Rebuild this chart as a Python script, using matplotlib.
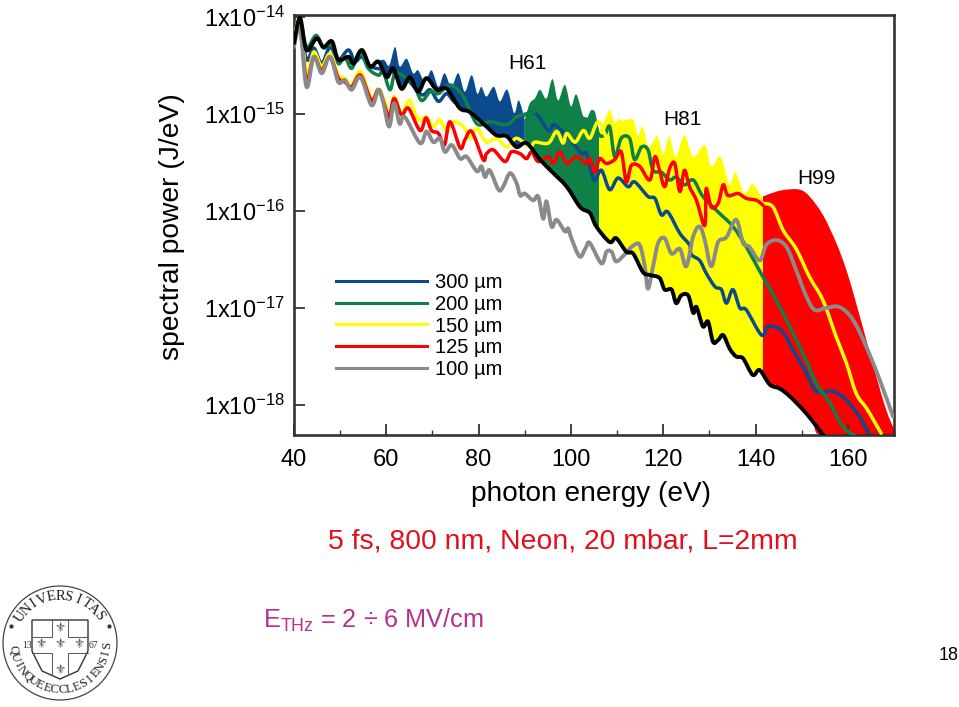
#! /usr/bin/env python3

import numpy as np
import matplotlib
matplotlib.use('Agg')
import matplotlib.pyplot as plt
from matplotlib.lines import Line2D
from matplotlib.path import Path
from matplotlib.patches import Circle, Polygon, PathPatch
from matplotlib.ticker import FixedLocator, NullLocator, FixedFormatter

plt.rcParams['font.family'] = ['Liberation Sans', 'DejaVu Sans']
plt.rcParams['mathtext.fontset'] = 'custom'
plt.rcParams['mathtext.rm'] = 'Liberation Sans'
plt.rcParams['mathtext.default'] = 'rm'

# all curves: photon energy (eV), log10 of spectral power (J/eV)
black_x = [40.0,41.3,42.7,44.9,46.4,48.2,49.6,51.8,52.9,54.7,56.5,58.3,60.1,61.5,63.3,65.1,66.9,68.7,70.9,73.1,75.9,78.1,81.7,83.9,86.1,88.2,90.4,93.3,96.2,99.1,102.0,104.1,105.5,108.4,109.8,112.0,113.5,115.6,117.1,119.2,120.3,121.8,122.8,123.9,125.4,126.5,127.2,128.6,129.7,130.8,131.9,133.0,134.4,135.8,137.3,139.4,140.9,143.1,145.2,147.4,150.3,152.4,155.0]
black_y = [-14.27,-14.01,-14.34,-14.22,-14.31,-14.25,-14.44,-14.41,-14.48,-14.34,-14.51,-14.46,-14.62,-14.53,-14.74,-14.62,-14.77,-14.63,-14.75,-14.74,-14.94,-14.98,-15.13,-15.22,-15.23,-15.34,-15.30,-15.47,-15.61,-15.75,-15.96,-16.02,-16.16,-16.32,-16.28,-16.42,-16.44,-16.63,-16.66,-16.69,-16.81,-16.81,-16.95,-16.87,-16.87,-17.05,-16.99,-17.19,-17.14,-17.35,-17.33,-17.28,-17.42,-17.50,-17.52,-17.69,-17.64,-17.79,-17.83,-17.91,-18.05,-18.17,-18.33]

gray_x = [40.0,41.3,42.7,44.3,46.0,47.8,49.6,51.0,52.5,54.4,56.8,58.3,59.3,60.6,61.7,62.9,64.0,67.3,68.7,70.2,71.6,72.7,74.2,76.0,77.4,79.6,80.6,81.4,82.4,84.3,85.3,86.8,88.2,89.0,90.0,91.8,92.9,94.0,94.7,95.8,96.9,98.7,99.4,100.1,101.9,103.2,104.1,106.6,107.7,108.8,109.8,111.6,113.4,114.9,116.0,116.7,117.8,118.9,120.3,121.8,123.6,125.0,126.5,127.9,129.0,130.4,131.9,133.7,135.8,137.3,138.7,140.9,142.3,144.5,146.7,148.8,151.0,152.8,155.3,158.2,161.1,164.0,166.9,169.8]
gray_y = [-14.31,-14.10,-14.72,-14.41,-14.58,-14.41,-14.67,-14.65,-14.75,-14.62,-14.91,-14.75,-14.87,-15.13,-14.89,-15.10,-15.03,-15.30,-15.18,-15.29,-15.25,-15.39,-15.32,-15.46,-15.44,-15.59,-15.54,-15.65,-15.58,-15.78,-15.75,-15.61,-15.71,-15.84,-15.82,-15.89,-15.85,-16.08,-15.90,-16.16,-16.09,-16.21,-16.18,-16.28,-16.47,-16.38,-16.33,-16.54,-16.42,-16.42,-16.52,-16.45,-16.36,-16.35,-16.57,-16.80,-16.57,-16.33,-16.28,-16.44,-16.39,-16.57,-16.26,-16.16,-16.30,-16.57,-16.32,-16.27,-16.09,-16.33,-16.37,-16.51,-16.35,-16.30,-16.37,-16.61,-16.88,-17.02,-17.00,-16.99,-17.12,-17.40,-17.74,-18.12]

red_x = [40.0,41.3,42.7,44.3,46.0,47.8,49.6,51.0,52.5,54.4,56.8,58.3,59.7,60.6,61.7,63.3,64.8,67.3,68.6,69.8,71.3,72.6,73.8,76.0,77.0,78.5,81.0,81.7,83.2,85.7,87.1,89.0,90.4,91.5,92.9,95.1,96.2,97.6,99.1,101.2,103.4,104.1,105.2,106.2,107.7,109.5,110.9,112.0,113.1,114.9,117.1,118.2,119.2,120.3,121.4,122.5,123.6,124.6,125.7,127.2,129.0,129.3,130.4,131.9,133.0,134.0,136.2,138.0,140.2,141.6]
red_y = [-14.25,-14.12,-14.65,-14.41,-14.55,-14.41,-14.63,-14.67,-14.72,-14.60,-14.86,-14.75,-14.92,-15.04,-14.84,-15.01,-14.94,-15.17,-15.04,-15.17,-15.20,-15.32,-15.08,-15.35,-15.27,-15.18,-15.47,-15.41,-15.37,-15.49,-15.39,-15.41,-15.46,-15.39,-15.49,-15.44,-15.51,-15.39,-15.51,-15.44,-15.51,-15.46,-15.60,-15.46,-15.51,-15.47,-15.39,-15.70,-15.53,-15.54,-15.68,-15.44,-15.58,-15.75,-15.56,-15.51,-15.80,-15.58,-15.75,-15.89,-16.15,-15.77,-15.96,-15.92,-15.73,-15.84,-15.82,-15.87,-15.89,-15.94]

yellow_x = [40.0,41.3,42.7,44.3,46.0,47.8,49.6,51.0,52.5,54.4,56.8,58.3,59.7,60.6,61.7,63.3,65.0,66.9,68.7,70.2,71.6,73.1,74.5,76.7,78.1,79.6,81.7,83.9,86.1,88.2,91.1,92.2,95.1,96.9,98.3,99.1,100.9,102.7,104.1,105.9,107.7]
yellow_y = [-14.22,-14.03,-14.58,-14.36,-14.51,-14.38,-14.60,-14.63,-14.70,-14.56,-14.84,-14.74,-14.87,-15.03,-14.82,-14.99,-14.86,-15.06,-15.03,-15.13,-15.06,-15.18,-15.08,-15.13,-15.25,-15.15,-15.29,-15.25,-15.34,-15.25,-15.34,-15.29,-15.30,-15.18,-15.30,-15.20,-15.29,-15.17,-15.25,-15.08,-15.25]
yellow2_x = [141.6,143.8,146.0,148.8,151.7,154.6,157.5,159.7,161.8,164.0,165.5,167.2]
yellow2_y = [-15.92,-15.96,-16.20,-16.39,-16.68,-16.92,-17.30,-17.57,-17.88,-18.03,-18.15,-18.29]

green_x = [40.0,41.3,42.7,44.8,46.4,48.2,49.6,51.0,52.5,54.3,56.1,58.3,59.3,60.8,61.9,64.0,65.8,67.6,69.5,71.3,73.8,76.7,79.6,82.4,86.1,88.2,91.1,95.0,100.0,104.1,104.8,105.9,107.3,108.4,109.5,110.9,112.7,113.8,115.3,116.7,117.8,119.6,121.4,122.8,124.6,126.5,128.6,131.9,135.1,138.0,141.6,144.5,147.4,150.3,153.2,156.1,158.9,161.8]
green_y = [-14.24,-14.03,-14.31,-14.19,-14.32,-14.27,-14.48,-14.41,-14.53,-14.36,-14.53,-14.60,-14.56,-14.75,-14.58,-14.62,-14.67,-14.86,-14.77,-14.79,-14.70,-14.82,-15.10,-15.08,-15.11,-15.03,-14.99,-14.95,-15.00,-15.06,-14.98,-15.20,-15.22,-15.13,-15.44,-15.25,-15.25,-15.47,-15.34,-15.37,-15.58,-15.60,-15.68,-15.65,-15.73,-15.68,-15.85,-16.01,-16.16,-16.37,-16.68,-16.92,-17.19,-17.47,-17.78,-17.98,-18.22,-18.33]

blue_x = [40.0,41.3,42.7,44.3,46.0,47.8,49.6,51.8,53.2,54.7,56.5,60.0,64.0,67.6,69.5,71.3,73.1,75.2,80.0,86.8,88.9,92.2,95.1,96.2,98.0,100.5,102.3,103.4,105.0,106.6,108.4,110.2,112.4,113.8,116.7,118.2,119.6,121.0,123.6,125.7,126.1,127.9,129.3,131.2,132.6,133.7,135.1,136.6,138.0,141.3,142.7,145.6,148.1,151.0,153.2,156.8,159.7,162.5,164.7]
blue_y = [-14.22,-14.05,-14.44,-14.32,-14.48,-14.31,-14.44,-14.34,-14.46,-14.41,-14.51,-14.55,-14.62,-14.80,-14.75,-14.87,-14.79,-14.89,-14.95,-15.06,-15.03,-14.99,-15.17,-15.11,-15.17,-15.30,-15.41,-15.41,-15.68,-15.58,-15.78,-15.66,-15.75,-15.70,-15.85,-15.87,-16.04,-16.01,-16.23,-16.35,-16.45,-16.51,-16.64,-16.78,-16.81,-16.95,-16.81,-17.00,-17.02,-17.28,-17.19,-17.23,-17.43,-17.67,-17.86,-17.86,-17.95,-18.12,-18.31]

# upper edges of the harmonic bands
blue_top_x = [56.5,59.3,60.6,61.9,62.9,64.4,65.8,66.9,68.4,69.8,71.3,72.6,74.1,75.6,77.0,78.5,79.7,80.6,81.7,83.3,84.6,86.2,87.7,88.7,90.0]
blue_top_y = [-14.51,-14.44,-14.50,-14.31,-14.51,-14.43,-14.58,-14.55,-14.67,-14.55,-14.72,-14.58,-14.72,-14.58,-14.77,-14.60,-14.79,-14.72,-14.82,-14.72,-14.87,-14.75,-14.99,-14.86,-15.06]
green_top_x = [90.0,91.1,92.2,93.3,94.7,96.0,97.2,98.7,100.0,101.2,103.0,104.6,106.1]
green_top_y = [-15.06,-14.89,-14.84,-14.75,-14.84,-14.64,-14.86,-14.70,-14.92,-14.80,-15.06,-14.96,-15.17]
yellow_top_x = [106.1,107.0,108.4,109.5,110.2,111.3,113.5,114.5,115.5,116.9,118.7,120.0,121.3,122.7,124.6,126.5,129.0,130.4,132.4,134.4,135.6,137.6,139.4,141.6]
yellow_top_y = [-15.17,-15.10,-14.96,-15.10,-15.05,-15.07,-15.06,-15.23,-15.13,-15.34,-15.23,-15.42,-15.23,-15.44,-15.22,-15.44,-15.32,-15.54,-15.44,-15.73,-15.60,-15.82,-15.72,-15.89]
red_top_x = [141.6,144.5,146.7,149.6,151.7,154.6,157.5,159.7,161.8,164.0,166.2,168.3,170.1]
red_top_y = [-15.85,-15.80,-15.78,-15.78,-15.85,-16.04,-16.33,-16.61,-16.95,-17.33,-17.71,-18.05,-18.26]

legend_labels = ['300 µm', '200 µm', '150 µm', '125 µm', '100 µm']
col_blue, col_green, col_yellow, col_red, col_gray = '#0c4a8e', '#0e8048', '#ffff00', '#ff0000', '#8a8a8a'
y_ticks = [-14, -15, -16, -17, -18]
y_labels = ['1x10$^{-14}$', '1x10$^{-15}$', '1x10$^{-16}$', '1x10$^{-17}$', '1x10$^{-18}$']
harmonics = ['H61', 'H81', 'H99']
harmonic_x = [86.5, 120.1, 149.1]
harmonic_y = [-14.48, -15.06, -15.66]

W, H = 959.0, 707.0
fig = plt.figure(figsize=(9.59, 7.07), dpi=100)
ax = fig.add_axes([294/W, (H-435)/H, 600/W, 420/H])


def segs(x, y):
    # bezier pieces through the read points, so the curves come out round as in the original
    p = np.column_stack([x, y])
    q = np.vstack([p[0], p, p[-1]])
    out = []
    for i in range(len(p)-1):
        out.append(p[i] + (q[i+2]-q[i])/6.0)
        out.append(p[i+1] - (q[i+3]-q[i+1])/6.0)
        out.append(p[i+1])
    return np.array(out)


def to_path(pieces):
    # pieces: first point, then the bezier pieces; exponents become values here
    verts = np.vstack(pieces)
    verts = np.column_stack([verts[:, 0], 10.0**verts[:, 1]])
    codes = [Path.MOVETO] + [Path.CURVE4]*(len(verts)-1)
    return Path(verts, codes)


def curve(x, y, color, lw, z):
    ax.add_patch(PathPatch(to_path([[x[0], y[0]], segs(x, y)]), fill=False, ec=color, lw=lw, zorder=z,
                           joinstyle='round', capstyle='round'))


def band(top_x, top_y, color):
    # fill from the upper edge down to the black curve
    top_x = np.array(top_x)
    low_x = np.array(black_x)
    keep = (low_x > top_x[0]) & (low_x < top_x[-1])
    edge_x = np.concatenate([[top_x[-1]], low_x[keep][::-1], [top_x[0]]])
    edge_y = np.concatenate([[np.interp(top_x[-1], black_x, black_y)], np.array(black_y)[keep][::-1],
                             [np.interp(top_x[0], black_x, black_y)]])
    path = to_path([[top_x[0], top_y[0]], segs(top_x, top_y)])
    low = to_path([[edge_x[0], edge_y[0]], segs(edge_x, edge_y)])
    verts = np.vstack([path.vertices, low.vertices])
    codes = list(path.codes) + [Path.LINETO] + list(low.codes[1:])
    ax.add_patch(PathPatch(Path(verts, codes), fc=color, lw=0, zorder=1))


band(blue_top_x, blue_top_y, col_blue)
band(green_top_x, green_top_y, col_green)
band(yellow_top_x, yellow_top_y, col_yellow)
band(red_top_x, red_top_y, col_red)

lw = 2.5
curve(blue_x, blue_y, col_blue, lw, 2)
curve(green_x, green_y, col_green, lw, 3)
curve(yellow_x, yellow_y, col_yellow, lw, 4)
curve(yellow2_x, yellow2_y, col_yellow, lw, 4)
curve(red_x, red_y, col_red, lw, 5)
curve(gray_x, gray_y, col_gray, lw+0.3, 6)
curve(black_x, black_y, 'black', lw+0.3, 7)

ax.set_yscale('log')
ax.set_xlim(40, 170)
ax.set_ylim(10.0**(-14-418/97.0), 10.0**(-14+2/97.0))
ax.xaxis.set_major_locator(FixedLocator([40, 60, 80, 100, 120, 140, 160]))
ax.xaxis.set_minor_locator(FixedLocator([50, 70, 90, 110, 130, 150, 170]))
ax.yaxis.set_major_locator(FixedLocator([10.0**v for v in y_ticks]))
ax.yaxis.set_major_formatter(FixedFormatter(y_labels))
ax.yaxis.set_minor_locator(NullLocator())
ax.tick_params(which='major', direction='in', length=8, width=1.3, color='#333333', labelsize=17)
ax.tick_params(which='minor', direction='in', length=3.6, width=1.0, color='#333333')
ax.tick_params(axis='x', which='major', pad=10)
ax.tick_params(axis='y', which='major', pad=6.5)
for s in ax.spines.values():
    s.set_linewidth(1.9)
    s.set_color('#333333')

fig.text(172/W, 1-227/H, 'spectral power (J/eV)', rotation=90, ha='center', va='center', fontsize=20.3)
fig.text(591/W, 1-494/H, 'photon energy (eV)', ha='center', va='center', fontsize=20.2)
for name, hx, hy in zip(harmonics, harmonic_x, harmonic_y):
    ax.text(hx, 10.0**hy, name, fontsize=15, va='center', zorder=8)

handles = [Line2D([], [], color=c, lw=2.2) for c in [col_blue, col_green, col_yellow, col_red, col_gray]]
ax.legend(handles, legend_labels, frameon=False, fontsize=14.5, handlelength=4.5, handletextpad=0.4,
          labelspacing=0.13, loc='upper left', bbox_to_anchor=(0.07, 0.385), borderpad=0, borderaxespad=0)

fig.text(563/W, 1-542/H, '5 fs, 800 nm, Neon, 20 mbar, L=2mm', color='#e0101c', ha='center', va='center', fontsize=20.4)
fig.text(263/W, 1-620/H, 'E$_{\\mathrm{THz}}$ = 2 ÷ 6 MV/cm', color='#b5308f', ha='left', va='center', fontsize=18.2)
fig.text(959/W, 1-656/H, '18', color='black', ha='right', va='center', fontsize=13)

# the university seal bottom left
seal_top = 'UNIVERSITAS'
seal_bottom = 'QUINQUEECCLESIENSIS'
seal_numbers = ['13', '67']
seal_number_x = [-33, 33]
fleur_x = [0, -19, 0, 19, 0]
fleur_y = [15, -2, -2, -2, -28]
seal = fig.add_axes([0/W, (H-705)/H, 120/W, 120/H])
seal.set_xlim(-60, 60)
seal.set_ylim(-62, 58)
seal.axis('off')
seal.add_patch(Circle((0, 0), 57, fill=False, ec='#444444', lw=0.9))
seal.add_patch(Polygon([(-28, 23), (28, 23), (28, -8), (18, -28), (0, -36), (-18, -28), (-28, -8)],
                       fill=False, ec='#333333', lw=1.0))
seal.plot([-8, -8, -28], [23, 6, 6], color='#555555', lw=0.7)
seal.plot([8, 8, 28], [23, 6, 6], color='#555555', lw=0.7)
seal.plot([-28, -8, -8], [-10, -10, -32], color='#555555', lw=0.7)
seal.plot([28, 8, 8], [-10, -10, -32], color='#555555', lw=0.7)
seal.plot([-49, 49], [17, 17], ls='none', marker='o', ms=2, color='#333333')
for t, tx in zip(seal_numbers, seal_number_x):
    seal.text(tx, -2, t, fontsize=7, family='Liberation Serif', ha='center', va='center', color='#333333')
for fx, fy in zip(fleur_x, fleur_y):
    seal.text(fx, fy, '\u269c', fontsize=9, family='DejaVu Sans', ha='center', va='center', color='#555555')
for i, c in enumerate(seal_top):
    a = np.radians(146 - i*11.2)
    seal.text(47*np.cos(a), 47*np.sin(a), c, rotation=np.degrees(a)-90, fontsize=10.5, family='Liberation Serif',
              ha='center', va='center', color='#222222')
for i, c in enumerate(seal_bottom):
    a = np.radians(188 + i*9.4)
    seal.text(47*np.cos(a), 47*np.sin(a), c, rotation=np.degrees(a)+90, fontsize=9, family='Liberation Serif',
              ha='center', va='center', color='#222222')

plt.savefig('out.png', dpi=100)
